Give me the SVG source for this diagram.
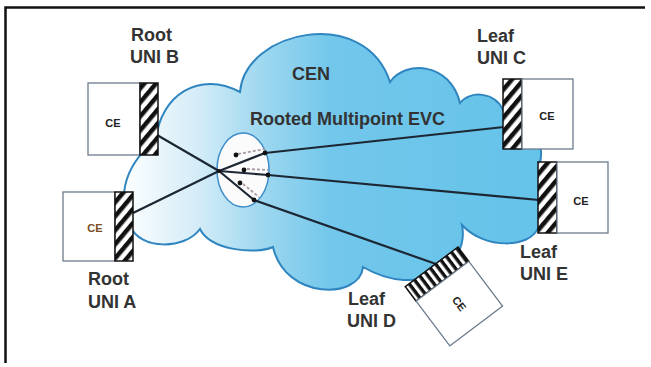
<svg xmlns="http://www.w3.org/2000/svg" width="651" height="367" viewBox="0 0 651 367">
<style>
.frame{stroke:#111;stroke-width:2.5;fill:none}
.cloud{fill:url(#cloudGrad);stroke:#2f85bf;stroke-width:2}
.hub{fill:#fbfbfb;stroke:#3d8cc8;stroke-width:1.5}
.link{stroke:#1c2733;stroke-width:2.2;fill:none;stroke-linejoin:round}
.dash{stroke:#a899a3;stroke-width:1.8;stroke-dasharray:3 2;fill:none}
.dot{fill:#111}
.box{fill:#fff;stroke:#6b7b8c;stroke-width:1.3}
.hatch{fill:url(#hatch);stroke:#111;stroke-width:1.5}
.hatchD{fill:url(#hatchD);stroke:#111;stroke-width:1.5}
.ce{font-family:"Liberation Sans",Arial,sans-serif;font-weight:bold;font-size:11px;fill:#222;text-anchor:middle}
.lbl{font-family:"Liberation Sans",Arial,sans-serif;font-weight:bold;font-size:18px;fill:#333}
</style>
<defs>
<linearGradient id="cloudGrad" gradientUnits="userSpaceOnUse" x1="120" y1="0" x2="560" y2="0">
<stop offset="0" stop-color="#ffffff"/>
<stop offset="0.18" stop-color="#d3ecf7"/>
<stop offset="0.32" stop-color="#9fd8f0"/>
<stop offset="0.48" stop-color="#72c7eb"/>
<stop offset="1" stop-color="#64c2e9"/>
</linearGradient>
<pattern id="hatch" patternUnits="userSpaceOnUse" width="9" height="20" patternTransform="rotate(40)">
<rect width="9" height="20" fill="#fff"/>
<rect width="4.5" height="20" fill="#111"/>
</pattern>
<pattern id="hatchD" patternUnits="userSpaceOnUse" width="20" height="6.6">
<rect width="20" height="6.6" fill="#fff"/>
<rect width="20" height="3.4" fill="#111"/>
</pattern>
</defs>

<rect width="651" height="367" fill="#fff"/>
<path class="frame" d="M5.5,363 V7.5 H645"/>

<g id="cen">
<path class="cloud" d="M156,140 C160,95 200,70 240,92 C245,30 365,5 390,82 C405,60 450,62 460,103 C470,90 495,92 503,110 C530,110 545,140 540,163 C565,180 560,225 538,228 C530,248 485,250 462,225 C470,265 420,300 363,267 C360,300 285,300 273,247 C255,255 210,250 200,229 C185,250 140,250 130,226 C120,205 118,170 156,140 Z"/>
<text class="lbl" x="292" y="80">CEN</text>
<text class="lbl" x="250" y="125">Rooted Multipoint EVC</text>
</g>

<g id="evc-hub">
<ellipse class="hub" cx="243" cy="170" rx="26" ry="37"/>
</g>

<g id="connectors">
<path class="link" d="M157,135 L219,171"/>
<path class="link" d="M133,213 L219,171"/>
<path class="link" d="M219,171 L265,153 L504,127"/>
<path class="link" d="M219,171 L268,175 L539,200"/>
<path class="link" d="M219,171 L254,200 L436,264"/>
<path class="dash" d="M238,154 L265,149"/>
<path class="dash" d="M247,169 L268,170"/>
<path class="dash" d="M243,184 L259,197"/>
<circle class="dot" cx="236" cy="155" r="2.4"/>
<circle class="dot" cx="265" cy="153" r="2.4"/>
<circle class="dot" cx="244" cy="170" r="2.4"/>
<circle class="dot" cx="268" cy="175" r="2.4"/>
<circle class="dot" cx="240" cy="183" r="2.4"/>
<circle class="dot" cx="254" cy="200" r="2.4"/>
<circle class="dot" cx="219" cy="171" r="2"/>
</g>

<g id="uni-b">
<rect class="box" x="88" y="83" width="52" height="72"/>
<rect class="hatch" x="140" y="83" width="18" height="72"/>
<text class="ce" x="113" y="127">CE</text>
<text class="lbl" x="131" y="41">Root</text>
<text class="lbl" x="130" y="63">UNI B</text>
</g>

<g id="uni-a">
<rect class="box" x="63" y="192" width="52" height="69"/>
<rect class="hatch" x="115" y="192" width="18" height="69"/>
<text class="ce" x="95" y="232" style="fill:#7a4e22">CE</text>
<text class="lbl" x="88" y="285">Root</text>
<text class="lbl" x="88" y="308">UNI A</text>
</g>

<g id="uni-c">
<rect class="hatch" x="503" y="79" width="19" height="70"/>
<rect class="box" x="522" y="79" width="51" height="70"/>
<text class="ce" x="547" y="120">CE</text>
<text class="lbl" x="477" y="42">Leaf</text>
<text class="lbl" x="477" y="64">UNI C</text>
</g>

<g id="uni-e">
<rect class="hatch" x="538" y="162" width="19" height="71"/>
<rect class="box" x="557" y="162" width="51" height="71"/>
<text class="ce" x="581" y="205">CE</text>
<text class="lbl" x="520" y="258">Leaf</text>
<text class="lbl" x="520" y="280">UNI E</text>
</g>

<g id="uni-d">
<g transform="translate(458,247) rotate(53)">
<rect class="hatchD" x="0" y="0" width="18" height="66"/>
<rect class="box" x="18" y="0" width="56" height="66"/>
<text class="ce" x="46" y="37">CE</text>
</g>
<text class="lbl" x="348" y="305">Leaf</text>
<text class="lbl" x="347" y="327">UNI D</text>
</g>
</svg>
